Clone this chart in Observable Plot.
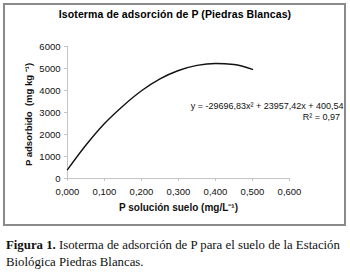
<!DOCTYPE html>
<html><head><meta charset="utf-8">
<script src="https://cdn.jsdelivr.net/npm/d3@7"></script>
<script src="https://cdn.jsdelivr.net/npm/@observablehq/plot@0.6"></script>
<style>
body{margin:0;background:#fff;}
#wrap{position:relative;width:350px;height:272px;overflow:hidden;font-family:"Liberation Sans",Arial,sans-serif;}
#frame{position:absolute;left:3px;top:3px;width:339px;height:219px;border:2px solid #8a8a8a;}
#title{position:absolute;left:0;width:350px;top:8px;text-align:center;font-weight:bold;font-size:10.5px;letter-spacing:0.1px;color:#000;}
#chart{position:absolute;left:0;top:0;}
#caption{position:absolute;left:6px;top:237px;width:344px;font-family:"Liberation Serif","Times New Roman",serif;font-size:12.8px;line-height:17px;color:#111;}
#caption div{white-space:nowrap;}
</style></head>
<body>
<div id="wrap">
  <div id="frame"></div>
  <div id="title">Isoterma de adsorción de P (Piedras Blancas)</div>
  <div id="chart"></div>
  <div id="caption">
    <div><b>Figura 1.</b><span> Isoterma de adsorción de P para el suelo de la Estación</span></div>
    <div><span>Biológica Piedras Blancas.</span></div>
  </div>
</div>
<script>
const xValues = [0, 0.05, 0.10, 0.15, 0.20, 0.25, 0.30, 0.35, 0.40, 0.45, 0.50];
const yValues = [400, 1520, 2500, 3300, 3990, 4530, 4910, 5140, 5230, 5180, 4960];
const xTicks = [0, 0.1, 0.2, 0.3, 0.4, 0.5, 0.6];
const yTicks = [0, 1000, 2000, 3000, 4000, 5000, 6000];
const equationText = "y = -29696,83x² + 23957,42x + 400,54";
const r2Text = "R² = 0,97";
const xLabel = "P solución suelo (mg/L⁻¹)";
const yLabel = "P adsorbido  (mg kg ⁻¹)";

const data = xValues.map((x, i) => ({x, y: yValues[i]}));
const axisColor = "#c4c4c4";
const fmtX = d => d.toFixed(3).replace(".", ",");

const chart = Plot.plot({
  width: 350,
  height: 228,
  marginLeft: 67,
  marginRight: 61,
  marginTop: 46,
  marginBottom: 50,
  style: {fontFamily: "'Liberation Sans', Arial, sans-serif", fontSize: "9.5px", color: "#111", background: "transparent"},
  x: {domain: [0, 0.6]},
  y: {domain: [0, 6000]},
  marks: [
    Plot.ruleX([0], {stroke: axisColor}),
    Plot.ruleY([0], {stroke: axisColor}),
    Plot.axisX(xTicks, {label: null, tickFormat: fmtX, tickSize: 3, stroke: axisColor, tickPadding: 7, fill: "#111"}),
    Plot.axisY(yTicks, {label: null, tickFormat: d3.format("d"), tickSize: 3, stroke: axisColor, tickPadding: 4, fill: "#111"}),
    Plot.line(data, {x: "x", y: "y", stroke: "#111", strokeWidth: 1.4, curve: "monotone-x"}),
    Plot.text([equationText], {frameAnchor: "top-right", dx: 54, dy: 56, textAnchor: "end", fontSize: 9, fill: "#111"}),
    Plot.text([r2Text], {frameAnchor: "top-right", dx: 32, dy: 67, textAnchor: "middle", fontSize: 9, fill: "#111"}),
    Plot.text([xLabel], {frameAnchor: "bottom", dy: 32, fontWeight: "bold", fontSize: 10, fill: "#111"}),
    Plot.text([yLabel], {frameAnchor: "left", dx: -39, dy: 2, rotate: -90, textAnchor: "middle", fontWeight: "bold", fontSize: 9.5, fill: "#111"})
  ]
});
document.getElementById("chart").appendChild(chart);
</script>
</body></html>
